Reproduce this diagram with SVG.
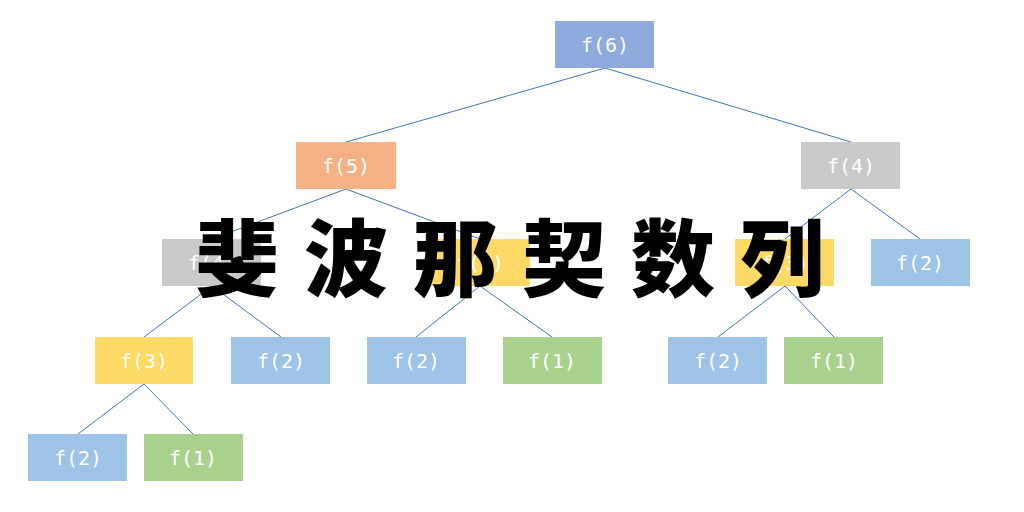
<svg xmlns="http://www.w3.org/2000/svg" width="1024" height="512" viewBox="0 0 1024 512">
<style>
.n rect{stroke:none}
.n text{font-family:"DejaVu Sans Mono","Liberation Mono",monospace;font-size:20px;fill:#fff;text-anchor:middle;dominant-baseline:central}
.b{fill:#8FAADC}.o{fill:#F4B183}.g{fill:#C9C9C9}.y{fill:#FFD966}.l{fill:#9DC3E6}.gr{fill:#A9D18E}
#edges line{stroke:#4472C4;stroke-width:1}
</style>
<rect width="1024" height="512" fill="#fff"/>
<g id="edges">
<line x1="605" y1="68" x2="346" y2="142"/>
<line x1="605" y1="68" x2="851" y2="142"/>
<line x1="346" y1="189" x2="212" y2="239"/>
<line x1="346" y1="189" x2="480" y2="239"/>
<line x1="851" y1="189" x2="785" y2="239"/>
<line x1="851" y1="189" x2="920" y2="239"/>
<line x1="212" y1="286" x2="144" y2="337"/>
<line x1="212" y1="286" x2="281" y2="337"/>
<line x1="480" y1="286" x2="416" y2="337"/>
<line x1="480" y1="286" x2="552" y2="337"/>
<line x1="785" y1="286" x2="718" y2="337"/>
<line x1="785" y1="286" x2="834" y2="337"/>
<line x1="144" y1="384" x2="78" y2="434"/>
<line x1="144" y1="384" x2="193" y2="434"/>
</g>
<g id="n1" class="n"><rect class="b" x="555" y="21" width="99" height="47"/><text x="605" y="45">f(6)</text></g>
<g id="n2" class="n"><rect class="o" x="296" y="142" width="100" height="47"/><text x="346" y="166">f(5)</text></g>
<g id="n3" class="n"><rect class="g" x="801" y="142" width="99" height="47"/><text x="851" y="166">f(4)</text></g>
<g id="n4" class="n"><rect class="g" x="162" y="239" width="99" height="47"/><text x="212" y="263">f(4)</text></g>
<g id="n5" class="n"><rect class="y" x="431" y="239" width="99" height="47"/><text x="480" y="263">f(3)</text></g>
<g id="n6" class="n"><rect class="y" x="735" y="239" width="99" height="47"/><text x="785" y="263">f(3)</text></g>
<g id="n7" class="n"><rect class="l" x="871" y="239" width="99" height="47"/><text x="920" y="263">f(2)</text></g>
<g id="n8" class="n"><rect class="y" x="95" y="337" width="98" height="47"/><text x="144" y="361">f(3)</text></g>
<g id="n9" class="n"><rect class="l" x="231" y="337" width="99" height="47"/><text x="281" y="361">f(2)</text></g>
<g id="n10" class="n"><rect class="l" x="367" y="337" width="99" height="47"/><text x="416" y="361">f(2)</text></g>
<g id="n11" class="n"><rect class="gr" x="503" y="337" width="99" height="47"/><text x="552" y="361">f(1)</text></g>
<g id="n12" class="n"><rect class="l" x="668" y="337" width="99" height="47"/><text x="718" y="361">f(2)</text></g>
<g id="n13" class="n"><rect class="gr" x="784" y="337" width="99" height="47"/><text x="834" y="361">f(1)</text></g>
<g id="n14" class="n"><rect class="l" x="28" y="434" width="99" height="47"/><text x="78" y="458">f(2)</text></g>
<g id="n15" class="n"><rect class="gr" x="144" y="434" width="99" height="47"/><text x="193" y="458">f(1)</text></g>
<text x="195" y="290" font-family="'Noto Sans CJK SC',sans-serif" font-weight="900" font-size="84" letter-spacing="25" fill="#000">斐波那契数列</text>
</svg>
